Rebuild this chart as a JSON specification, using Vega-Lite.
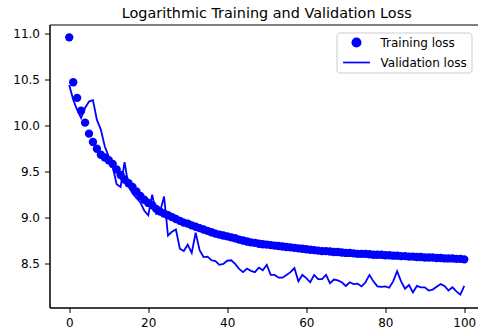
{
  "$schema": "https://vega.github.io/schema/vega-lite/v6.json",
  "width": 429,
  "height": 283,
  "autosize": {"type": "none"},
  "padding": {"left": 49.5, "top": 24.5, "right": 0, "bottom": 26.5},
  "background": "white",
  "title": {
    "text": "Logarithmic Training and Validation Loss",
    "anchor": "middle",
    "frame": "group",
    "font": "DejaVu Sans",
    "fontSize": 14.4,
    "fontWeight": "normal",
    "color": "black",
    "baseline": "alphabetic",
    "offset": -8,
    "dx": 2.7
  },
  "config": {
    "view": {"stroke": "black", "strokeWidth": 1},
    "axis": {
      "grid": false,
      "domainColor": "black",
      "tickColor": "black",
      "labelColor": "black",
      "labelFont": "DejaVu Sans",
      "labelFontSize": 12,
      "tickSize": 5,
      "title": null
    }
  },
  "data": {
    "values": [
      {"epoch":0,"series":"Training loss","loss":10.96},{"epoch":1,"series":"Training loss","loss":10.47},{"epoch":2,"series":"Training loss","loss":10.30},{"epoch":3,"series":"Training loss","loss":10.16},{"epoch":4,"series":"Training loss","loss":10.03},{"epoch":5,"series":"Training loss","loss":9.91},{"epoch":6,"series":"Training loss","loss":9.82},{"epoch":7,"series":"Training loss","loss":9.745},{"epoch":8,"series":"Training loss","loss":9.68},{"epoch":9,"series":"Training loss","loss":9.65},{"epoch":10,"series":"Training loss","loss":9.62},{"epoch":11,"series":"Training loss","loss":9.58},{"epoch":12,"series":"Training loss","loss":9.52},{"epoch":13,"series":"Training loss","loss":9.46},{"epoch":14,"series":"Training loss","loss":9.41},{"epoch":15,"series":"Training loss","loss":9.37},{"epoch":16,"series":"Training loss","loss":9.33},{"epoch":17,"series":"Training loss","loss":9.28},{"epoch":18,"series":"Training loss","loss":9.23},{"epoch":19,"series":"Training loss","loss":9.19},{"epoch":20,"series":"Training loss","loss":9.155},{"epoch":21,"series":"Training loss","loss":9.13},{"epoch":22,"series":"Training loss","loss":9.09},{"epoch":23,"series":"Training loss","loss":9.06},{"epoch":24,"series":"Training loss","loss":9.04},{"epoch":25,"series":"Training loss","loss":9.02},{"epoch":26,"series":"Training loss","loss":9.00},{"epoch":27,"series":"Training loss","loss":8.98},{"epoch":28,"series":"Training loss","loss":8.96},{"epoch":29,"series":"Training loss","loss":8.94},{"epoch":30,"series":"Training loss","loss":8.93},{"epoch":31,"series":"Training loss","loss":8.91},{"epoch":32,"series":"Training loss","loss":8.895},{"epoch":33,"series":"Training loss","loss":8.88},{"epoch":34,"series":"Training loss","loss":8.865},{"epoch":35,"series":"Training loss","loss":8.85},{"epoch":36,"series":"Training loss","loss":8.835},{"epoch":37,"series":"Training loss","loss":8.82},{"epoch":38,"series":"Training loss","loss":8.81},{"epoch":39,"series":"Training loss","loss":8.80},{"epoch":40,"series":"Training loss","loss":8.79},{"epoch":41,"series":"Training loss","loss":8.78},{"epoch":42,"series":"Training loss","loss":8.77},{"epoch":43,"series":"Training loss","loss":8.755},{"epoch":44,"series":"Training loss","loss":8.745},{"epoch":45,"series":"Training loss","loss":8.735},{"epoch":46,"series":"Training loss","loss":8.725},{"epoch":47,"series":"Training loss","loss":8.72},{"epoch":48,"series":"Training loss","loss":8.71},{"epoch":49,"series":"Training loss","loss":8.705},{"epoch":50,"series":"Training loss","loss":8.70},{"epoch":51,"series":"Training loss","loss":8.695},{"epoch":52,"series":"Training loss","loss":8.69},{"epoch":53,"series":"Training loss","loss":8.685},{"epoch":54,"series":"Training loss","loss":8.68},{"epoch":55,"series":"Training loss","loss":8.675},{"epoch":56,"series":"Training loss","loss":8.67},{"epoch":57,"series":"Training loss","loss":8.665},{"epoch":58,"series":"Training loss","loss":8.66},{"epoch":59,"series":"Training loss","loss":8.655},{"epoch":60,"series":"Training loss","loss":8.65},{"epoch":61,"series":"Training loss","loss":8.645},{"epoch":62,"series":"Training loss","loss":8.64},{"epoch":63,"series":"Training loss","loss":8.635},{"epoch":64,"series":"Training loss","loss":8.63},{"epoch":65,"series":"Training loss","loss":8.63},{"epoch":66,"series":"Training loss","loss":8.625},{"epoch":67,"series":"Training loss","loss":8.62},{"epoch":68,"series":"Training loss","loss":8.62},{"epoch":69,"series":"Training loss","loss":8.615},{"epoch":70,"series":"Training loss","loss":8.61},{"epoch":71,"series":"Training loss","loss":8.61},{"epoch":72,"series":"Training loss","loss":8.605},{"epoch":73,"series":"Training loss","loss":8.60},{"epoch":74,"series":"Training loss","loss":8.60},{"epoch":75,"series":"Training loss","loss":8.60},{"epoch":76,"series":"Training loss","loss":8.595},{"epoch":77,"series":"Training loss","loss":8.59},{"epoch":78,"series":"Training loss","loss":8.59},{"epoch":79,"series":"Training loss","loss":8.59},{"epoch":80,"series":"Training loss","loss":8.585},{"epoch":81,"series":"Training loss","loss":8.585},{"epoch":82,"series":"Training loss","loss":8.58},{"epoch":83,"series":"Training loss","loss":8.58},{"epoch":84,"series":"Training loss","loss":8.575},{"epoch":85,"series":"Training loss","loss":8.575},{"epoch":86,"series":"Training loss","loss":8.57},{"epoch":87,"series":"Training loss","loss":8.57},{"epoch":88,"series":"Training loss","loss":8.565},{"epoch":89,"series":"Training loss","loss":8.565},{"epoch":90,"series":"Training loss","loss":8.56},{"epoch":91,"series":"Training loss","loss":8.56},{"epoch":92,"series":"Training loss","loss":8.56},{"epoch":93,"series":"Training loss","loss":8.555},{"epoch":94,"series":"Training loss","loss":8.555},{"epoch":95,"series":"Training loss","loss":8.55},{"epoch":96,"series":"Training loss","loss":8.55},{"epoch":97,"series":"Training loss","loss":8.55},{"epoch":98,"series":"Training loss","loss":8.545},{"epoch":99,"series":"Training loss","loss":8.545},{"epoch":100,"series":"Training loss","loss":8.54},
      {"epoch":0,"series":"Validation loss","loss":10.44},{"epoch":1,"series":"Validation loss","loss":10.28},{"epoch":2,"series":"Validation loss","loss":10.17},{"epoch":3,"series":"Validation loss","loss":10.08},{"epoch":4,"series":"Validation loss","loss":10.19},{"epoch":5,"series":"Validation loss","loss":10.26},{"epoch":6,"series":"Validation loss","loss":10.275},{"epoch":7,"series":"Validation loss","loss":10.06},{"epoch":8,"series":"Validation loss","loss":9.955},{"epoch":9,"series":"Validation loss","loss":9.77},{"epoch":10,"series":"Validation loss","loss":9.66},{"epoch":11,"series":"Validation loss","loss":9.55},{"epoch":12,"series":"Validation loss","loss":9.36},{"epoch":13,"series":"Validation loss","loss":9.33},{"epoch":14,"series":"Validation loss","loss":9.60},{"epoch":15,"series":"Validation loss","loss":9.34},{"epoch":16,"series":"Validation loss","loss":9.26},{"epoch":17,"series":"Validation loss","loss":9.21},{"epoch":18,"series":"Validation loss","loss":9.16},{"epoch":19,"series":"Validation loss","loss":9.07},{"epoch":20,"series":"Validation loss","loss":9.02},{"epoch":21,"series":"Validation loss","loss":9.245},{"epoch":22,"series":"Validation loss","loss":9.035},{"epoch":23,"series":"Validation loss","loss":9.06},{"epoch":24,"series":"Validation loss","loss":9.225},{"epoch":25,"series":"Validation loss","loss":8.80},{"epoch":26,"series":"Validation loss","loss":8.84},{"epoch":27,"series":"Validation loss","loss":8.865},{"epoch":28,"series":"Validation loss","loss":8.655},{"epoch":29,"series":"Validation loss","loss":8.63},{"epoch":30,"series":"Validation loss","loss":8.70},{"epoch":31,"series":"Validation loss","loss":8.61},{"epoch":32,"series":"Validation loss","loss":8.83},{"epoch":33,"series":"Validation loss","loss":8.64},{"epoch":34,"series":"Validation loss","loss":8.565},{"epoch":35,"series":"Validation loss","loss":8.57},{"epoch":36,"series":"Validation loss","loss":8.53},{"epoch":37,"series":"Validation loss","loss":8.52},{"epoch":38,"series":"Validation loss","loss":8.48},{"epoch":39,"series":"Validation loss","loss":8.49},{"epoch":40,"series":"Validation loss","loss":8.525},{"epoch":41,"series":"Validation loss","loss":8.53},{"epoch":42,"series":"Validation loss","loss":8.49},{"epoch":43,"series":"Validation loss","loss":8.435},{"epoch":44,"series":"Validation loss","loss":8.40},{"epoch":45,"series":"Validation loss","loss":8.44},{"epoch":46,"series":"Validation loss","loss":8.415},{"epoch":47,"series":"Validation loss","loss":8.40},{"epoch":48,"series":"Validation loss","loss":8.45},{"epoch":49,"series":"Validation loss","loss":8.42},{"epoch":50,"series":"Validation loss","loss":8.48},{"epoch":51,"series":"Validation loss","loss":8.37},{"epoch":52,"series":"Validation loss","loss":8.37},{"epoch":53,"series":"Validation loss","loss":8.34},{"epoch":54,"series":"Validation loss","loss":8.34},{"epoch":55,"series":"Validation loss","loss":8.37},{"epoch":56,"series":"Validation loss","loss":8.40},{"epoch":57,"series":"Validation loss","loss":8.445},{"epoch":58,"series":"Validation loss","loss":8.30},{"epoch":59,"series":"Validation loss","loss":8.37},{"epoch":60,"series":"Validation loss","loss":8.335},{"epoch":61,"series":"Validation loss","loss":8.29},{"epoch":62,"series":"Validation loss","loss":8.37},{"epoch":63,"series":"Validation loss","loss":8.325},{"epoch":64,"series":"Validation loss","loss":8.325},{"epoch":65,"series":"Validation loss","loss":8.37},{"epoch":66,"series":"Validation loss","loss":8.28},{"epoch":67,"series":"Validation loss","loss":8.32},{"epoch":68,"series":"Validation loss","loss":8.31},{"epoch":69,"series":"Validation loss","loss":8.29},{"epoch":70,"series":"Validation loss","loss":8.25},{"epoch":71,"series":"Validation loss","loss":8.29},{"epoch":72,"series":"Validation loss","loss":8.27},{"epoch":73,"series":"Validation loss","loss":8.275},{"epoch":74,"series":"Validation loss","loss":8.245},{"epoch":75,"series":"Validation loss","loss":8.29},{"epoch":76,"series":"Validation loss","loss":8.37},{"epoch":77,"series":"Validation loss","loss":8.30},{"epoch":78,"series":"Validation loss","loss":8.245},{"epoch":79,"series":"Validation loss","loss":8.24},{"epoch":80,"series":"Validation loss","loss":8.245},{"epoch":81,"series":"Validation loss","loss":8.23},{"epoch":82,"series":"Validation loss","loss":8.30},{"epoch":83,"series":"Validation loss","loss":8.41},{"epoch":84,"series":"Validation loss","loss":8.30},{"epoch":85,"series":"Validation loss","loss":8.22},{"epoch":86,"series":"Validation loss","loss":8.26},{"epoch":87,"series":"Validation loss","loss":8.18},{"epoch":88,"series":"Validation loss","loss":8.25},{"epoch":89,"series":"Validation loss","loss":8.235},{"epoch":90,"series":"Validation loss","loss":8.235},{"epoch":91,"series":"Validation loss","loss":8.20},{"epoch":92,"series":"Validation loss","loss":8.21},{"epoch":93,"series":"Validation loss","loss":8.24},{"epoch":94,"series":"Validation loss","loss":8.27},{"epoch":95,"series":"Validation loss","loss":8.25},{"epoch":96,"series":"Validation loss","loss":8.20},{"epoch":97,"series":"Validation loss","loss":8.235},{"epoch":98,"series":"Validation loss","loss":8.19},{"epoch":99,"series":"Validation loss","loss":8.155},{"epoch":100,"series":"Validation loss","loss":8.25}
    ]
  },
  "encoding": {
    "x": {
      "field": "epoch", "type": "quantitative",
      "scale": {"domain": [-5, 103.6], "nice": false, "zero": false},
      "axis": {"values": [0, 20, 40, 60, 80, 100], "labelPadding": 5, "labelFlush": false}
    },
    "y": {
      "field": "loss", "type": "quantitative",
      "scale": {"domain": [8.015, 11.10], "nice": false, "zero": false},
      "axis": {"values": [8.5, 9.0, 9.5, 10.0, 10.5, 11.0], "format": ".1f", "labelPadding": 5, "labelFlush": false}
    },
    "color": {
      "field": "series", "type": "nominal",
      "scale": {"domain": ["Training loss", "Validation loss"], "range": ["#0000ff", "#0000ff"]},
      "legend": {
        "title": null, "orient": "none", "legendX": 287, "legendY": 8,
        "padding": 4, "symbolOffset": 10, "labelOffset": 18, "rowPadding": 6,
        "symbolSize": 70, "symbolStrokeColor": "#0000ff", "symbolStrokeWidth": 1.7,
        "labelFont": "DejaVu Sans", "labelFontSize": 12, "labelColor": "black",
        "strokeColor": "#cccccc", "cornerRadius": 3, "fillColor": "rgba(255,255,255,0.8)"
      }
    }
  },
  "layer": [
    {
      "transform": [{"filter": "datum.series === 'Training loss'"}],
      "mark": {"type": "point", "filled": true, "opacity": 1, "size": 70},
      "encoding": {
        "shape": {
          "field": "series", "type": "nominal",
          "scale": {"domain": ["Training loss", "Validation loss"], "range": ["circle", "M -3.2 0 L 3.2 0"]},
          "legend": {
            "title": null, "orient": "none", "legendX": 287, "legendY": 8,
            "padding": 4, "symbolOffset": 10, "labelOffset": 18, "rowPadding": 6,
            "symbolSize": 70, "symbolStrokeColor": "#0000ff", "symbolStrokeWidth": 1.7,
            "labelFont": "DejaVu Sans", "labelFontSize": 12, "labelColor": "black",
            "strokeColor": "#cccccc", "cornerRadius": 3, "fillColor": "rgba(255,255,255,0.8)"
          }
        }
      }
    },
    {
      "transform": [{"filter": "datum.series === 'Validation loss'"}],
      "mark": {"type": "line", "strokeWidth": 1.8}
    }
  ]
}
